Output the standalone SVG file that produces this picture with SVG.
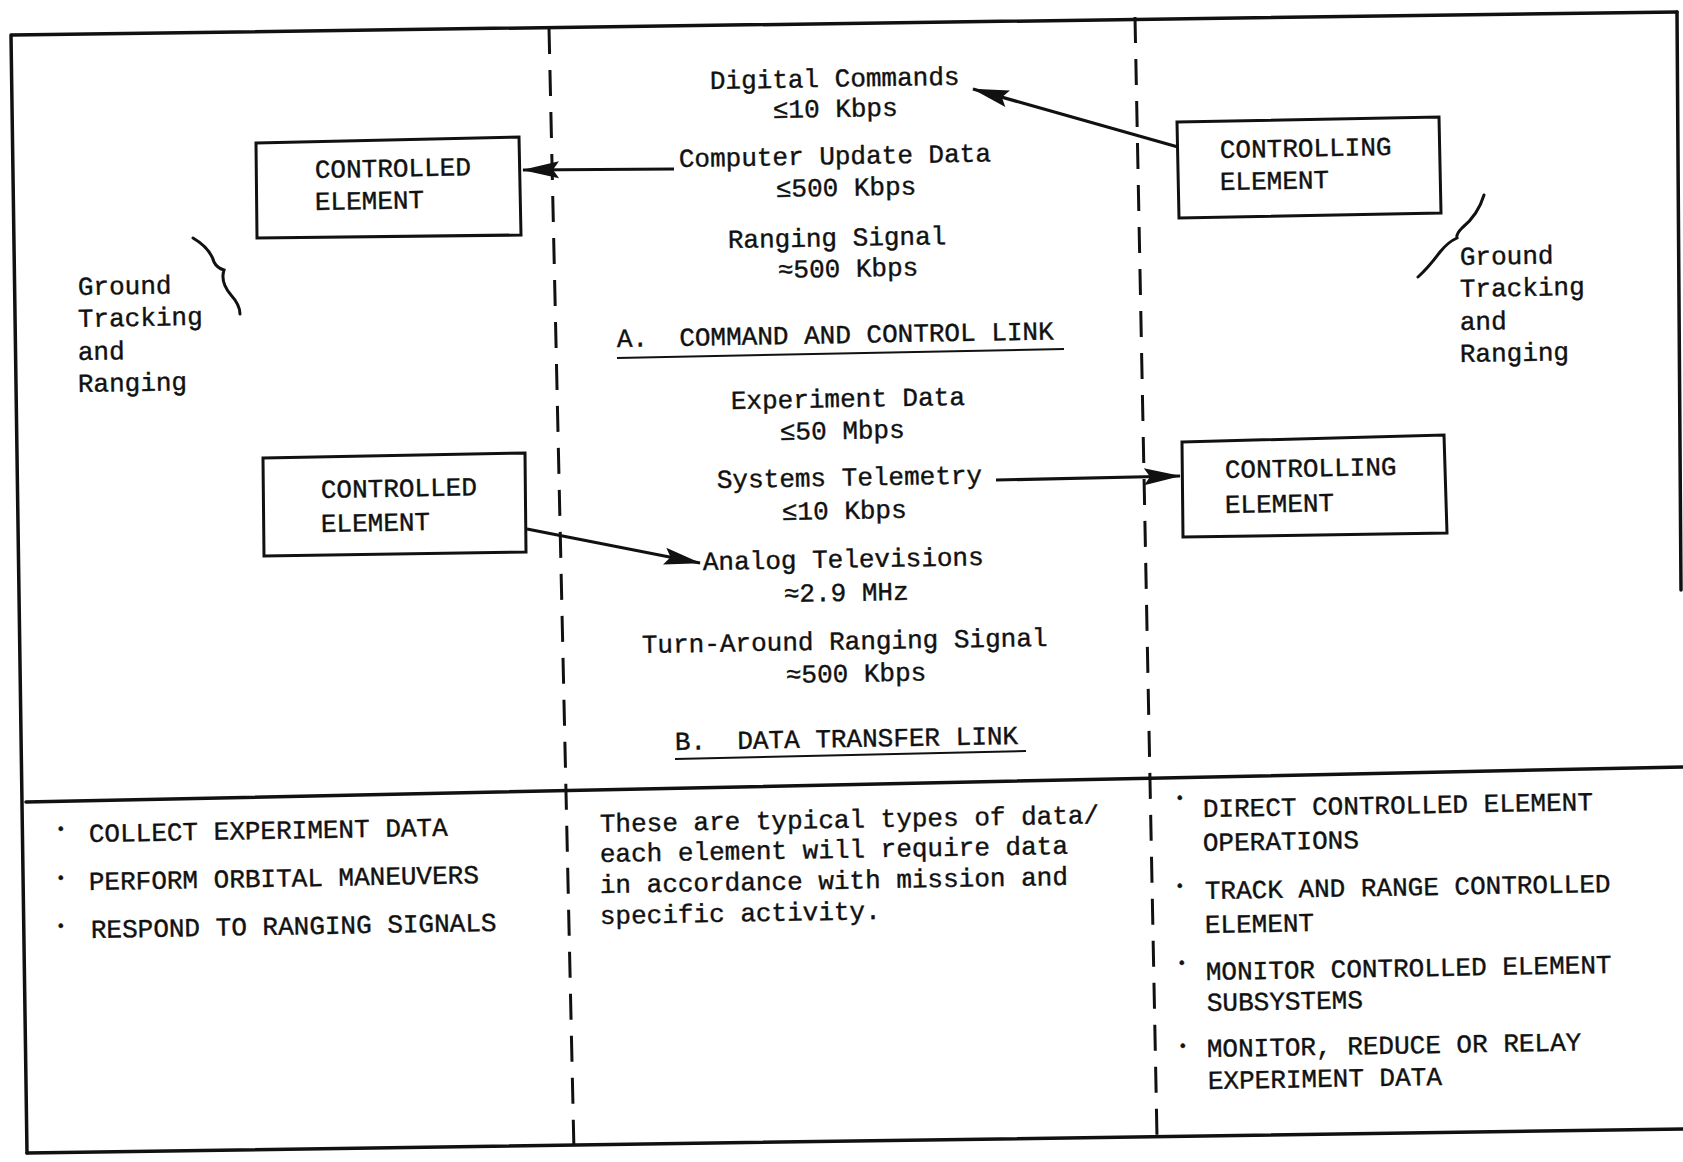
<svg xmlns="http://www.w3.org/2000/svg" width="1683" height="1162" viewBox="0 0 1683 1162">
<defs>
<style>
text { font-family: "Liberation Mono", "DejaVu Sans Mono", monospace; font-size: 26px; fill: #111; stroke: #111; stroke-width: 0.4; }
.frame { stroke: #111; stroke-width: 3.5; fill: none; stroke-linecap: round; }
.dash { stroke: #111; stroke-width: 3; fill: none; stroke-dasharray: 26 16; }
.box { stroke: #111; stroke-width: 3; fill: #fff; stroke-linejoin: miter; }
.arrow { stroke: #111; stroke-width: 3.2; fill: none; marker-end: url(#ah); }
.ul { stroke: #111; stroke-width: 2; }
.brace { stroke: #111; stroke-width: 3; fill: none; stroke-linecap: round; }
.bullet { font-size: 16px; }
</style>
<marker id="ah" markerUnits="userSpaceOnUse" viewBox="-40 -10 42 20" markerWidth="42" markerHeight="20" refX="0" refY="0" orient="auto">
<path d="M1,0 L-36,-8.5 L-30,0 L-36,8.5 Z" fill="#111"/>
</marker>
</defs>
<rect width="1683" height="1162" fill="#fff"/>

<g id="frame">
<path class="frame" d="M12,35 L1677,12"/>
<path class="frame" d="M11,35 L27,1153"/>
<path class="frame" d="M27,1153 L1683,1129"/>
<path class="frame" d="M1677,12 L1681,590"/>
<path class="frame" d="M26,802 L1683,767"/>
<path class="dash" d="M549,28 L574,1152"/>
<path class="dash" d="M1135,17 L1157,1137"/>
</g>

<g id="connectors">
<path class="arrow" d="M1178,147 L973,89"/>
<path class="arrow" d="M674,169 L523,170"/>
<path class="arrow" d="M996,480 L1180,476"/>
<path class="arrow" d="M527,529 L700,563"/>
</g>

<g id="controlled-element-top">
<polygon class="box" points="256,143 519,137 521,235 257,238"/>
<text x="315" y="178" transform="rotate(-1 315 178)">CONTROLLED</text>
<text x="315" y="210" transform="rotate(-1 315 210)">ELEMENT</text>
</g>

<g id="controlling-element-top">
<polygon class="box" points="1177,122 1439,117 1441,213 1179,218"/>
<text x="1220" y="158" transform="rotate(-1 1220 158)">CONTROLLING</text>
<text x="1220" y="190" transform="rotate(-1 1220 190)">ELEMENT</text>
</g>

<g id="controlled-element-bottom">
<polygon class="box" points="263,458 525,453 526,552 264,556"/>
<text x="321" y="498" transform="rotate(-1 321 498)">CONTROLLED</text>
<text x="321" y="532" transform="rotate(-1 321 532)">ELEMENT</text>
</g>

<g id="controlling-element-bottom">
<polygon class="box" points="1182,442 1444,435 1447,533 1183,537"/>
<text x="1225" y="478" transform="rotate(-1 1225 478)">CONTROLLING</text>
<text x="1225" y="513" transform="rotate(-1 1225 513)">ELEMENT</text>
</g>

<g id="ground-left">
<path class="brace" d="M193,238 Q210,248 214,262 Q217,268 224,270 Q220,282 231,295 Q240,305 240,314"/>
<text x="78" y="295" transform="rotate(-1 78 295)">Ground</text>
<text x="78" y="327" transform="rotate(-1 78 327)">Tracking</text>
<text x="78" y="360" transform="rotate(-1 78 360)">and</text>
<text x="78" y="392" transform="rotate(-1 78 392)">Ranging</text>
</g>

<g id="ground-right">
<path class="brace" d="M1484,195 Q1478,215 1462,228 Q1456,234 1457,238 Q1448,242 1440,252 Q1428,268 1418,277"/>
<text x="1460" y="265" transform="rotate(-1 1460 265)">Ground</text>
<text x="1460" y="297" transform="rotate(-1 1460 297)">Tracking</text>
<text x="1460" y="330" transform="rotate(-1 1460 330)">and</text>
<text x="1460" y="362" transform="rotate(-1 1460 362)">Ranging</text>
</g>

<g id="command-link">
<text x="710" y="89" transform="rotate(-1 710 89)">Digital Commands</text>
<text x="773" y="118" transform="rotate(-1 773 118)">≤10 Kbps</text>
<text x="679" y="167" transform="rotate(-1 679 167)">Computer Update Data</text>
<text x="776" y="197" transform="rotate(-1 776 197)">≤500 Kbps</text>
<text x="728" y="248" transform="rotate(-1 728 248)">Ranging Signal</text>
<text x="778" y="278" transform="rotate(-1 778 278)">≈500 Kbps</text>
<text x="617" y="347" transform="rotate(-1 617 347)" xml:space="preserve">A.  COMMAND AND CONTROL LINK</text>
<line class="ul" x1="617" y1="358" x2="1064" y2="349"/>
</g>

<g id="data-link">
<text x="731" y="409" transform="rotate(-1 731 409)">Experiment Data</text>
<text x="780" y="440" transform="rotate(-1 780 440)">≤50 Mbps</text>
<text x="717" y="488" transform="rotate(-1 717 488)">Systems Telemetry</text>
<text x="782" y="520" transform="rotate(-1 782 520)">≤10 Kbps</text>
<text x="703" y="570" transform="rotate(-1 703 570)">Analog Televisions</text>
<text x="784" y="602" transform="rotate(-1 784 602)">≈2.9 MHz</text>
<text x="642" y="653" transform="rotate(-1 642 653)">Turn-Around Ranging Signal</text>
<text x="786" y="683" transform="rotate(-1 786 683)">≈500 Kbps</text>
<text x="675" y="750" transform="rotate(-1 675 750)" xml:space="preserve">B.  DATA TRANSFER LINK</text>
<line class="ul" x1="675" y1="759" x2="1026" y2="751"/>
</g>

<g id="controlled-functions">
<text class="bullet" x="56" y="834">•</text>
<text x="89" y="842" transform="rotate(-1 89 842)">COLLECT EXPERIMENT DATA</text>
<text class="bullet" x="56" y="883">•</text>
<text x="89" y="890" transform="rotate(-1 89 890)">PERFORM ORBITAL MANEUVERS</text>
<text class="bullet" x="56" y="931">•</text>
<text x="91" y="938" transform="rotate(-1 91 938)">RESPOND TO RANGING SIGNALS</text>
</g>

<g id="note">
<text x="600" y="832" transform="rotate(-1 600 832)">These are typical types of data/</text>
<text x="600" y="862" transform="rotate(-1 600 862)">each element will require data</text>
<text x="600" y="893" transform="rotate(-1 600 893)">in accordance with mission and</text>
<text x="600" y="924" transform="rotate(-1 600 924)">specific activity.</text>
</g>

<g id="controlling-functions">
<text class="bullet" x="1175" y="803">•</text>
<text x="1203" y="817" transform="rotate(-1 1203 817)">DIRECT CONTROLLED ELEMENT</text>
<text x="1203" y="851" transform="rotate(-1 1203 851)">OPERATIONS</text>
<text class="bullet" x="1175" y="891">•</text>
<text x="1205" y="899" transform="rotate(-1 1205 899)">TRACK AND RANGE CONTROLLED</text>
<text x="1205" y="933" transform="rotate(-1 1205 933)">ELEMENT</text>
<text class="bullet" x="1177" y="968">•</text>
<text x="1206" y="980" transform="rotate(-1 1206 980)">MONITOR CONTROLLED ELEMENT</text>
<text x="1207" y="1011" transform="rotate(-1 1207 1011)">SUBSYSTEMS</text>
<text class="bullet" x="1178" y="1051">•</text>
<text x="1207" y="1057" transform="rotate(-1 1207 1057)">MONITOR, REDUCE OR RELAY</text>
<text x="1208" y="1089" transform="rotate(-1 1208 1089)">EXPERIMENT DATA</text>
</g>
</svg>
